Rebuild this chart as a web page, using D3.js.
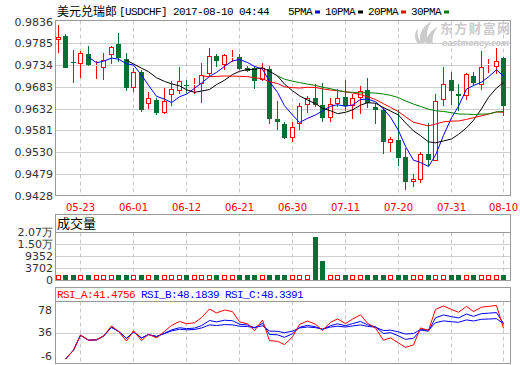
<!DOCTYPE html>
<html><head><meta charset="utf-8">
<script src="https://cdn.jsdelivr.net/npm/d3@7"></script>
<style>body{margin:0;background:#fff}svg{display:block}</style>
</head><body><svg id="c" width="520" height="365"></svg>
<script>
// ---------- data ----------
const openP  = [0.9792,0.9802,0.9742,0.9736,0.9761,0.9734,0.9727,0.9758,0.9784,0.9749,
                0.9680,0.9719,0.9644,0.9653,0.9623,0.9664,0.9674,0.9688,0.9687,0.9689,
                0.9713,0.9756,0.9734,0.9752,0.9754,0.9728,0.9728,0.9699,0.9724,0.9607,
                0.9597,0.9563,0.9597,0.9641,0.9656,0.9641,0.9611,0.9642,0.9660,0.9639,
                0.9658,0.9675,0.9635,0.9630,0.9552,0.9558,0.9518,0.9461,0.9466,0.9526,
                0.9510,0.9653,0.9699,0.9667,0.9662,0.9709,0.9688,0.9734,0.9730,0.9750];
const highP  = [0.9828,0.9808,0.9769,0.9767,0.9779,0.9744,0.9762,0.9780,0.9810,0.9762,
                0.9728,0.9722,0.9670,0.9658,0.9681,0.9698,0.9730,0.9699,0.9705,0.9740,
                0.9773,0.9759,0.9761,0.9769,0.9761,0.9732,0.9732,0.9738,0.9733,0.9650,
                0.9602,0.9601,0.9646,0.9662,0.9691,0.9693,0.9658,0.9678,0.9699,0.9666,
                0.9685,0.9705,0.9646,0.9636,0.9566,0.9630,0.9540,0.9478,0.9530,0.9599,
                0.9667,0.9730,0.9718,0.9689,0.9716,0.9718,0.9766,0.9748,0.9775,0.9754];
const lowP   = [0.9762,0.9728,0.9693,0.9705,0.9732,0.9702,0.9699,0.9736,0.9741,0.9674,
                0.9670,0.9625,0.9631,0.9617,0.9619,0.9639,0.9667,0.9668,0.9666,0.9645,
                0.9708,0.9730,0.9722,0.9741,0.9723,0.9718,0.9678,0.9696,0.9596,0.9582,
                0.9561,0.9555,0.9582,0.9623,0.9635,0.9602,0.9600,0.9635,0.9627,0.9607,
                0.9619,0.9633,0.9597,0.9527,0.9530,0.9498,0.9442,0.9449,0.9458,0.9498,
                0.9509,0.9639,0.9641,0.9627,0.9652,0.9685,0.9675,0.9716,0.9714,0.9615];
const closeP = [0.9801,0.9728,0.9738,0.9763,0.9734,0.9735,0.9745,0.9776,0.9750,0.9681,
                0.9719,0.9628,0.9656,0.9621,0.9649,0.9677,0.9697,0.9686,0.9690,0.9710,
                0.9755,0.9743,0.9758,0.9754,0.9726,0.9720,0.9697,0.9727,0.9607,0.9601,
                0.9563,0.9588,0.9639,0.9656,0.9641,0.9610,0.9642,0.9657,0.9639,0.9656,
                0.9674,0.9646,0.9628,0.9553,0.9560,0.9517,0.9460,0.9467,0.9527,0.9512,
                0.9650,0.9691,0.9674,0.9661,0.9714,0.9692,0.9730,0.9736,0.9744,0.9639];
const volume = [2170,2170,2170,2170,2170,2170,2170,2170,2170,2170,
                2170,2170,2170,2170,2170,2170,2170,2170,2170,2170,
                2170,2170,2170,2170,2170,2170,2170,2170,2170,2170,
                2170,2170,2170,2170,18790,8245,2170,2170,2170,2170,
                2170,2170,2170,2170,2170,2170,2170,2170,2170,2170,
                2170,2170,2170,2170,2170,2170,2170,2170,2170,2170];
const xTickIndex  = [3,10,17,24,31,38,45,52,59];
const xTickLabels = ["05-23","06-01","06-12","06-21","06-30","07-11","07-20","07-31","08-10"];
const priceTicks  = [0.9836,0.9785,0.9734,0.9683,0.9632,0.9581,0.9530,0.9479,0.9428];
const volTickLabels = ["0","3702","9352","1.50万","2.07万"];
const volMax = 20700;
const rsiTicks = [78,36,-6];
const maPeriods = [5,10,20,30];
const maNames = ["5PMA","10PMA","20PMA","30PMA"];
const maColors = ["#0000ff","#000000","#ff0000","#008000"];
const rsiPeriods = [6,12,24];
const rsiNames = ["RSI_A:41.4756","RSI_B:48.1839","RSI_C:48.3391"];
const rsiColors = ["#ff0000","#0000ff","#0000ff"];
const titleCJK = "美元兑瑞郎";
const titleRest = "[USDCHF] 2017-08-10 04:44";

// ---------- layout ----------
const svg = d3.select("#c");
const L = 55.5, R = 510.5;
const mainTop = 20.5, mainBot = 195.5;
const volBoxTop = 214.5, volTop = 232.5, volBot = 280.5;
const rsiBoxTop = 287.5, rsiTop = 301.5, rsiBot = 363.5;
const RED = "#ff0000", GREEN = "#087034";
const GRID = "#cfcfcf", FRAME = "#9a9a9a";
const N = closeP.length;

const xb = d3.scaleBand().domain(d3.range(N)).range([54, 507.2]).padding(0);
const cx = i => Math.round(xb(i) + xb.bandwidth()/2) + 0.5;
const y = d3.scaleLinear().domain([0.9428, 0.9836]).range([195.8, 21.6]);
const yv = d3.scaleLinear().domain([0, volMax]).range([280, 232.3]);
const yvTick = d3.scalePoint().domain(volTickLabels).range([volBot, volTop]);
const yr = d3.scaleLinear().domain([-6, 78]).range([rsiBot, rsiTop]);
const snap = v => Math.round(v) + 0.5;

const monoFont = "'Liberation Mono','DejaVu Sans Mono',monospace";
const cjkFont = "'Noto Sans CJK SC','Noto Sans',sans-serif";
const axFont = "'DejaVu Sans',sans-serif";

// ---------- watermark ----------
const wm = svg.append("g").attr("fill", "#cbcbcb");
wm.append("path").attr("d", "M421,44 C418,36 421,27 432,21 C427,28 426,34 428,41 Z");
wm.append("path").attr("d", "M426,44 C426,36 431,30 438,27 C433,33 432,38 433,44 Z");
wm.append("path").attr("d", "M418,44 C414,39 414,33 418,28 C417,34 418,39 422,44 Z");
wm.append("text").attr("x", 440).attr("y", 33).attr("font-family", cjkFont)
  .attr("font-size", 13).attr("font-weight", "bold").attr("textLength", 70).text("东方财富网");
wm.append("text").attr("x", 442).attr("y", 45.5).attr("font-family", "'DejaVu Sans',sans-serif")
  .attr("font-size", 8).attr("font-weight", "bold").attr("font-style", "italic")
  .attr("textLength", 67).text("eastmoney.com");

// ---------- title & legend ----------
svg.append("text").attr("x", 57).attr("y", 15.5).attr("font-family", cjkFont)
  .attr("font-size", 12).attr("fill", "#000").text(titleCJK);
svg.append("text").attr("x", 119).attr("y", 15).attr("font-family", monoFont)
  .attr("font-size", 11).attr("letter-spacing", -0.6).attr("fill", "#000").text(titleRest);
let lx = 288;
maNames.forEach((nm, k) => {
  svg.append("text").attr("x", lx).attr("y", 15).attr("font-family", monoFont)
    .attr("font-size", 11).attr("letter-spacing", -0.6).attr("fill", "#000").text(nm);
  const tx = lx + nm.length * 6 + 3;
  svg.append("rect").attr("x", tx).attr("y", 10.5).attr("width", 5).attr("height", 3).attr("fill", maColors[k]);
  lx = tx + 5 + 5;
});

// ---------- panel frames & grids ----------
function vGrid(top, bot) {
  svg.append("g").selectAll("line").data(xTickIndex).join("line")
    .attr("x1", i => cx(i)).attr("x2", i => cx(i)).attr("y1", top).attr("y2", bot)
    .attr("stroke", "#c8c8c8").attr("stroke-dasharray", "4,3");
}
// main
svg.append("g").selectAll("line").data(priceTicks.slice(1, -1)).join("line")
  .attr("x1", L).attr("x2", R).attr("y1", d => snap(y(d))).attr("y2", d => snap(y(d)))
  .attr("stroke", GRID);
vGrid(mainTop, mainBot);
svg.append("rect").attr("x", L).attr("y", mainTop).attr("width", R - L).attr("height", mainBot - mainTop)
  .attr("fill", "none").attr("stroke", FRAME);
svg.append("g").selectAll("text").data(priceTicks).join("text")
  .attr("x", 53).attr("y", d => y(d)).attr("dy", "0.36em").attr("text-anchor", "end")
  .attr("font-family", axFont).attr("font-size", 11).attr("fill", "#333")
  .text(d => d.toFixed(4));
svg.append("g").selectAll("text").data(xTickIndex).join("text")
  .attr("x", i => cx(i)).attr("y", 207).attr("dy", "0.36em").attr("text-anchor", "middle")
  .attr("font-family", axFont).attr("font-size", 10).attr("fill", RED)
  .text((d, k) => xTickLabels[k]);

// volume
svg.append("g").selectAll("line").data(volTickLabels.slice(1, -1)).join("line")
  .attr("x1", L).attr("x2", R).attr("y1", d => yvTick(d)).attr("y2", d => yvTick(d)).attr("stroke", GRID);
vGrid(volTop, volBot);
svg.append("rect").attr("x", L).attr("y", volBoxTop).attr("width", R - L).attr("height", volBot - volBoxTop)
  .attr("fill", "none").attr("stroke", FRAME);
svg.append("line").attr("x1", L).attr("x2", R).attr("y1", volTop).attr("y2", volTop).attr("stroke", FRAME);
svg.append("text").attr("x", 57).attr("y", 223.5).attr("dy", "0.36em").attr("font-family", cjkFont)
  .attr("font-size", 13).attr("fill", "#000").text("成交量");
svg.append("g").selectAll("text").data(volTickLabels).join("text")
  .attr("x", 53).attr("y", d => yvTick(d)).attr("dy", "0.36em").attr("text-anchor", "end")
  .attr("font-family", axFont).attr("font-size", 11).attr("fill", "#333").text(d => d);

// rsi
svg.append("line").attr("x1", L).attr("x2", R).attr("y1", snap(yr(36))).attr("y2", snap(yr(36))).attr("stroke", GRID);
vGrid(rsiTop, rsiBot);
svg.append("rect").attr("x", L).attr("y", rsiBoxTop).attr("width", R - L).attr("height", rsiBot - rsiBoxTop)
  .attr("fill", "none").attr("stroke", FRAME);
svg.append("line").attr("x1", L).attr("x2", R).attr("y1", rsiTop).attr("y2", rsiTop).attr("stroke", FRAME);
svg.append("g").selectAll("text").data(rsiTicks).join("text")
  .attr("x", 52).attr("y", d => Math.min(Math.max(yr(d), rsiTop + 8.5), rsiBot - 7.5))
  .attr("dy", "0.36em").attr("text-anchor", "end")
  .attr("font-family", axFont).attr("font-size", 11).attr("fill", "#333").text(d => d);
const rh = svg.append("text").attr("x", 57).attr("y", 294.5).attr("dy", "0.36em")
  .attr("font-family", monoFont).attr("font-size", 11).attr("letter-spacing", -0.6);
rsiNames.forEach((nm, k) => rh.append("tspan").attr("fill", rsiColors[k]).text((k ? " " : "") + nm));

// ---------- candles ----------
const idx = d3.range(N);
const up = i => closeP[i] >= openP[i];
const cg = svg.append("g");
idx.forEach(i => {
  const x = cx(i);
  const col = up(i) ? RED : GREEN;
  const t = Math.round(y(Math.max(openP[i], closeP[i])));
  const b = Math.max(Math.round(y(Math.min(openP[i], closeP[i]))), t + 1);
  const hi = Math.round(y(highP[i])), lo = Math.round(y(lowP[i]));
  if (up(i)) {
    if (hi < t) cg.append("line").attr("x1", x).attr("x2", x).attr("y1", hi).attr("y2", t).attr("stroke", col);
    if (lo > b) cg.append("line").attr("x1", x).attr("x2", x).attr("y1", b).attr("y2", lo).attr("stroke", col);
    cg.append("rect").attr("x", x - 2).attr("y", t + 0.5).attr("width", 4).attr("height", Math.max(b - t - 1, 0))
      .attr("fill", "#fff").attr("stroke", col).attr("shape-rendering", "crispEdges");
  } else {
    cg.append("line").attr("x1", x).attr("x2", x).attr("y1", hi).attr("y2", lo).attr("stroke", col);
    cg.append("rect").attr("x", x - 2.5).attr("y", t).attr("width", 5).attr("height", Math.max(b - t, 1))
      .attr("fill", col).attr("shape-rendering", "crispEdges");
  }
});

// ---------- moving averages ----------
maPeriods.forEach((p, k) => {
  const pts = idx.filter(i => i >= p - 1).map(i => [i, d3.mean(closeP.slice(i - p + 1, i + 1))]);
  svg.append("path").datum(pts)
    .attr("d", d3.line().x(d => cx(d[0])).y(d => y(d[1])))
    .attr("fill", "none").attr("stroke", maColors[k]).attr("stroke-width", 1);
});

// ---------- volume bars ----------
const vg = svg.append("g");
idx.forEach(i => {
  const x = cx(i);
  const t = Math.round(yv(volume[i]));
  if (up(i)) {
    vg.append("rect").attr("x", x - 2).attr("y", t + 0.5).attr("width", 4).attr("height", 279 - t)
      .attr("fill", "#fff").attr("stroke", RED).attr("shape-rendering", "crispEdges");
  } else {
    vg.append("rect").attr("x", x - 2.5).attr("y", t).attr("width", 5).attr("height", 280 - t)
      .attr("fill", GREEN).attr("shape-rendering", "crispEdges");
  }
});

// ---------- RSI ----------
function rsi(n) {
  let su = 0, sa = 0, u = 0, a = 0; const out = [];
  for (let i = 1; i < N; i++) {
    const d = closeP[i] - closeP[i - 1];
    const g = Math.max(d, 0), ab = Math.abs(d);
    if (i <= n) { su += g; sa += ab; u = su / i; a = sa / i; }
    else { u = (g + (n - 1) * u) / n; a = (ab + (n - 1) * a) / n; }
    out.push([i, a ? 100 * u / a : 50]);
  }
  return out;
}
[2, 1, 0].forEach(k => {
  svg.append("path").datum(rsi(rsiPeriods[k]))
    .attr("d", d3.line().x(d => cx(d[0])).y(d => yr(d[1])))
    .attr("fill", "none").attr("stroke", rsiColors[k]).attr("stroke-width", 1);
});
</script></body></html>
